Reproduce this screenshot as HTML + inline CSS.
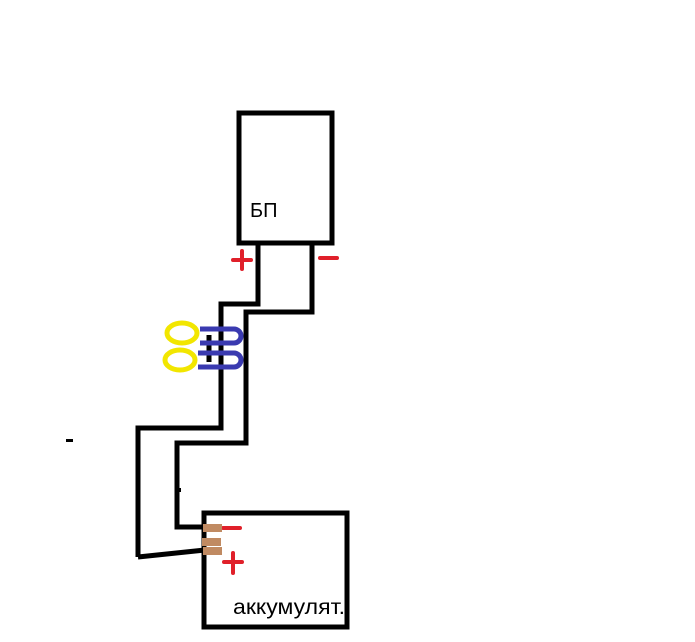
<!DOCTYPE html>
<html><head><style>body{margin:0;background:#fff}svg{display:block}</style></head><body>
<svg width="695" height="642" xmlns="http://www.w3.org/2000/svg">
<rect width="695" height="642" fill="#fff"/>
<g fill="none" stroke="#000" stroke-width="5">
<rect x="239" y="113" width="93" height="130"/>
<rect x="204" y="513" width="143" height="114"/>
<polyline points="258,243 258,304 221,304 221,428 138,428 138,557"/>
<polyline points="312,243 312,312 246,312 246,443 177,443 177,527 205,527"/>
<line x1="138" y1="557" x2="205" y2="550"/>
<line x1="209" y1="335" x2="209" y2="362"/>
</g>
<g fill="none" stroke="#3a3ab0" stroke-width="5">
<path d="M200,329 H234 A7,7 0 0 1 234,343 H200"/>
<path d="M198,353 H234 A7,7 0 0 1 234,367 H198"/>
</g>
<g fill="none" stroke="#f2e600" stroke-width="5">
<ellipse cx="182" cy="333" rx="15" ry="10"/>
<ellipse cx="180" cy="360" rx="15" ry="10"/>
</g>
<g stroke="#e0202a" stroke-width="4" stroke-linecap="round">
<line x1="233" y1="260" x2="251" y2="260"/><line x1="242" y1="251" x2="242" y2="269"/>
<line x1="320" y1="258" x2="337" y2="258"/>
<line x1="223" y1="528" x2="240" y2="528"/>
<line x1="224" y1="562" x2="242" y2="562"/><line x1="233" y1="553" x2="233" y2="573"/>
</g>
<g fill="#c08a62">
<rect x="203" y="524" width="19" height="8"/>
<rect x="202" y="538" width="19" height="8"/>
<rect x="203" y="547" width="19" height="8"/>
</g>
<rect x="66" y="439" width="7" height="3" fill="#000"/>
<rect x="178" y="488" width="3" height="4" fill="#000"/>
<text x="250" y="217" font-family="Liberation Sans, DejaVu Sans, sans-serif" font-size="20">БП</text>
<text x="233" y="614" font-family="Liberation Sans, DejaVu Sans, sans-serif" font-size="21" textLength="112" lengthAdjust="spacingAndGlyphs">аккумулят.</text>
</svg>
</body></html>
